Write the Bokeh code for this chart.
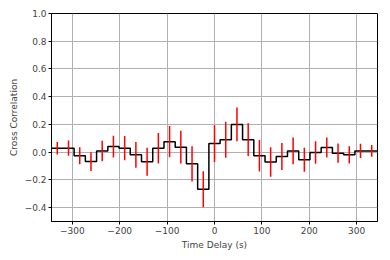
from bokeh.plotting import figure
from bokeh.models import ColumnDataSource, Range1d, FixedTicker
from bokeh.embed import file_html
from bokeh.resources import INLINE

lags = [-331.8, -308.1, -284.4, -260.7, -237.0, -213.3, -189.6, -165.9, -142.2, -118.5,
        -94.8, -71.1, -47.4, -23.7, 0.0, 23.7, 47.4, 71.1, 94.8, 118.5,
        142.2, 165.9, 189.6, 213.3, 237.0, 260.7, 284.4, 308.1, 331.8]
ccf = [0.029, 0.029, -0.026, -0.068, 0.009, 0.040, 0.029, -0.019, -0.069, 0.029,
       0.076, 0.036, -0.084, -0.267, 0.062, 0.090, 0.200, 0.090, -0.026, -0.071,
       -0.031, 0.009, -0.055, -0.002, 0.033, -0.007, -0.019, 0.009, 0.009]
err = [0.045, 0.055, 0.062, 0.067, 0.074, 0.079, 0.088, 0.093, 0.101, 0.110,
       0.112, 0.118, 0.127, 0.130, 0.133, 0.130, 0.122, 0.118, 0.113, 0.107,
       0.098, 0.097, 0.087, 0.081, 0.072, 0.069, 0.062, 0.051, 0.042]
x_ticks = [-300, -200, -100, 0, 100, 200, 300]
y_ticks = [-0.4, -0.2, 0.0, 0.2, 0.4, 0.6, 0.8, 1.0]

half = (lags[1] - lags[0]) / 2.0
step_x = [v - half for v in lags] + [lags[-1] + half]
step_y = ccf + [ccf[-1]]

p = figure(width=382, height=252, output_backend="svg", toolbar_location=None,
           x_range=Range1d(-344, 344), y_range=Range1d(-0.5, 1.0),
           min_border_left=51, min_border_right=5, min_border_top=13, min_border_bottom=30)

p.step(x=step_x, y=step_y, mode="after", line_color="black", line_width=1.5)

src = ColumnDataSource(dict(x=lags,
                            lo=[c - e for c, e in zip(ccf, err)],
                            hi=[c + e for c, e in zip(ccf, err)]))
p.segment(x0="x", y0="lo", x1="x", y1="hi", source=src, line_color="red", line_width=1.5)

font = "DejaVu Sans"
p.xaxis.ticker = FixedTicker(ticks=x_ticks)
p.yaxis.ticker = FixedTicker(ticks=y_ticks)
p.xaxis.major_label_overrides = {t: (str(t).replace("-", "\u2212")) for t in x_ticks}
p.yaxis.major_label_overrides = {t: ("%.1f" % t).replace("-", "\u2212") for t in y_ticks}
p.xaxis.axis_label = "Time Delay (s)"
p.yaxis.axis_label = "Cross Correlation"
for ax in (p.xaxis, p.yaxis):
    ax.axis_label_text_font = font
    ax.axis_label_text_font_size = "9px"
    ax.axis_label_text_font_style = "normal"
    ax.major_label_text_font = font
    ax.major_label_text_font_size = "9px"
    ax.minor_tick_line_color = None
    ax.major_tick_in = 0
    ax.major_tick_out = 3
    ax.axis_line_color = "black"
    ax.major_tick_line_color = "black"
    ax.axis_label_standoff = 3
    ax.major_label_standoff = 2

p.grid.grid_line_color = "#b0b0b0"
p.grid.grid_line_width = 1
p.outline_line_color = "black"
p.outline_line_width = 1
p.background_fill_color = "white"
p.border_fill_color = "white"

open("out.html", "w").write(file_html(p, INLINE))
